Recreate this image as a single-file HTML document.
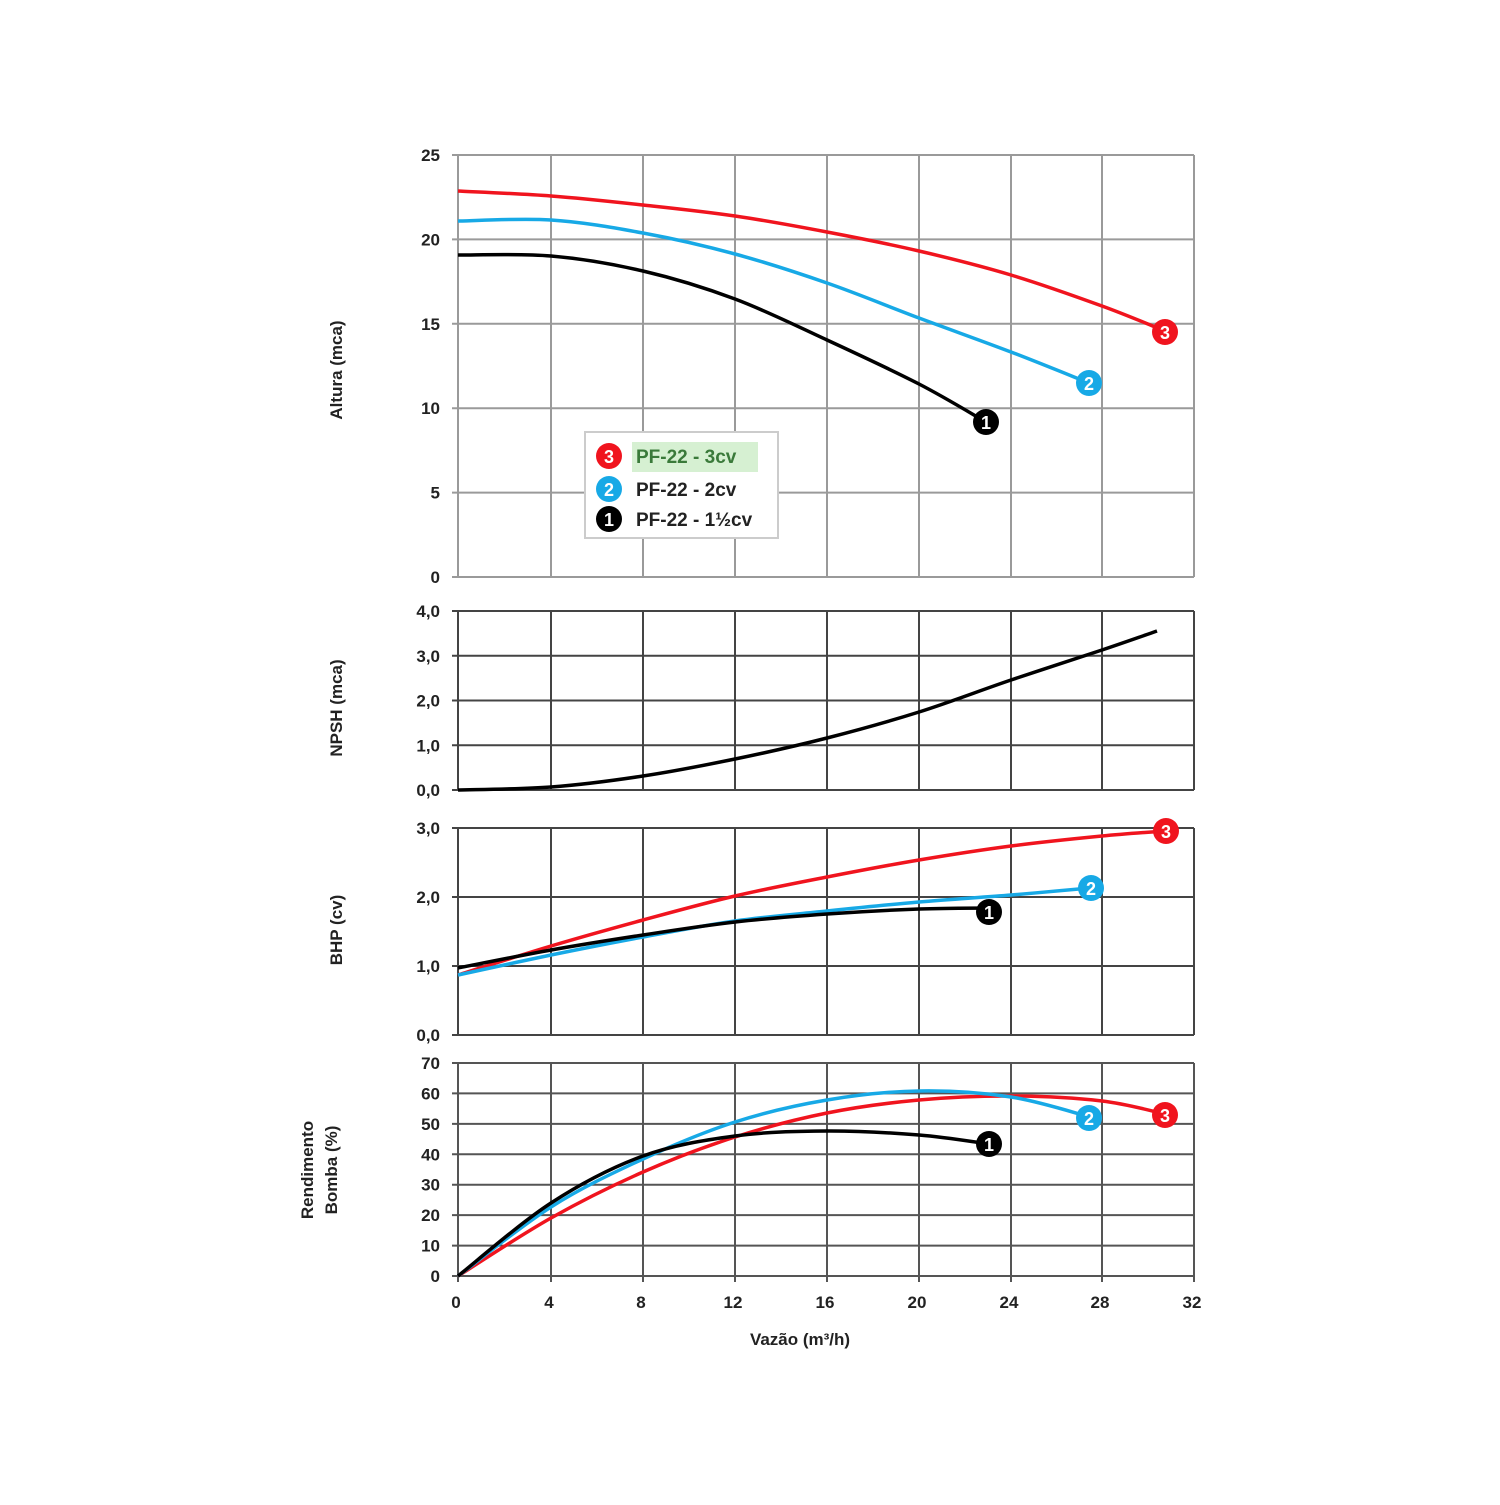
<!DOCTYPE html>
<html><head><meta charset="utf-8"><style>
body{margin:0;background:#fff}
svg text{font-family:"Liberation Sans",sans-serif;font-weight:bold;fill:#222}
</style></head><body>
<svg id="s" width="1500" height="1500" xmlns="http://www.w3.org/2000/svg">
<g id="grid"></g>
<g id="curves"></g>
<g id="labels"></g>
<rect x="585" y="432" width="193" height="106" fill="#fff" stroke="#ccc" stroke-width="2"/>
<rect x="632" y="442" width="126" height="30" fill="#d6f0d2"/>
<circle cx="609" cy="456" r="13" fill="#f0141e"/><text x="609" y="463" font-size="18" text-anchor="middle" style="fill:#fff">3</text>
<circle cx="609" cy="489" r="13" fill="#17a9e6"/><text x="609" y="496" font-size="18" text-anchor="middle" style="fill:#fff">2</text>
<circle cx="609" cy="519" r="13" fill="#000"/><text x="609" y="526" font-size="18" text-anchor="middle" style="fill:#fff">1</text>
<text x="636" y="463" font-size="19" style="fill:#3a7a3a">PF-22 - 3cv</text>
<text x="636" y="496" font-size="19">PF-22 - 2cv</text>
<text x="636" y="526" font-size="19">PF-22 - 1½cv</text>
</svg>
<script>
const NS="http://www.w3.org/2000/svg";
function el(p,t,a,txt){const e=document.createElementNS(NS,t);for(const k in a)e.setAttribute(k,a[k]);if(txt!==undefined)e.textContent=txt;document.getElementById(p).appendChild(e);return e;}
const xs=[458,551,643,735,827,919,1011,1102,1194];
const panels=[
 {top:155,bot:577,n:5,labs:["0","5","10","15","20","25"],col:"#9a9a9a"},
 {top:611,bot:790,n:4,labs:["0,0","1,0","2,0","3,0","4,0"],col:"#444"},
 {top:828,bot:1035,n:3,labs:["0,0","1,0","2,0","3,0"],col:"#444"},
 {top:1063,bot:1276,n:7,labs:["0","10","20","30","40","50","60","70"],col:"#555"}];
panels.forEach(p=>{
 for(let i=0;i<=p.n;i++){const y=p.bot-(p.bot-p.top)*i/p.n;
  el("grid","line",{x1:452,x2:1194,y1:y,y2:y,stroke:p.col,"stroke-width":2});
  el("labels","text",{x:440,y:y+6,"font-size":17,"text-anchor":"end"},p.labs[i]);}
 xs.forEach(x=>el("grid","line",{x1:x,x2:x,y1:p.top,y2:p.bot+(p===panels[3]?6:0),stroke:p.col,"stroke-width":2}));
});
[0,4,8,12,16,20,24,28,32].forEach((v,i)=>el("labels","text",{x:xs[i]-2,y:1308,"font-size":17,"text-anchor":"middle"},v));
el("labels","text",{x:800,y:1345,"font-size":17,"text-anchor":"middle"},"Vazão (m³/h)");
function vt(x,y,t){el("labels","text",{x:x,y:y,"font-size":17,"text-anchor":"middle",transform:`rotate(-90 ${x} ${y})`},t);}
vt(342,370,"Altura (mca)");vt(342,708,"NPSH (mca)");vt(342,930,"BHP (cv)");
vt(313,1170,"Rendimento");vt(337,1170,"Bomba (%)");
function curve(pts,c){let d="M"+pts[0];for(let i=0;i<pts.length-1;i++){const p0=pts[i-1]||pts[i],p1=pts[i],p2=pts[i+1],p3=pts[i+2]||p2;
 d+=` C${p1[0]+(p2[0]-p0[0])/6},${p1[1]+(p2[1]-p0[1])/6} ${p2[0]-(p3[0]-p1[0])/6},${p2[1]-(p3[1]-p1[1])/6} ${p2[0]},${p2[1]}`;}
 el("curves","path",{d:d,fill:"none",stroke:c,"stroke-width":3.5});}
function mk(x,y,c,n){el("curves","circle",{cx:x,cy:y,r:13,fill:c});el("curves","text",{x:x,y:y+7,"font-size":18,"text-anchor":"middle",style:"fill:#fff"},n);}
const R="#f0141e",B="#17a9e6",K="#000";
curve([[458,191],[551,196],[643,205],[735,216],[827,232],[919,251],[1011,275],[1102,306],[1165,331]],R);
curve([[458,221],[551,220],[643,233],[735,254],[827,283],[919,318],[1011,352],[1089,383]],B);
curve([[458,255],[551,256],[643,271],[735,299],[827,340],[919,384],[986,422]],K);
mk(1165,332,R,3);mk(1089,383,B,2);mk(986,422,K,1);
curve([[458,790],[551,787],[643,776],[735,759],[827,738],[919,712],[1011,680],[1102,650],[1157,631]],K);
curve([[458,975],[551,946],[643,920],[735,896],[827,877],[919,860],[1011,846],[1102,836],[1165,831]],R);
curve([[458,975],[551,955],[643,937],[735,921],[827,911],[919,902],[1011,895],[1090,888]],B);
curve([[458,968],[551,950],[643,935],[735,922],[827,914],[919,909],[989,908]],K);
mk(1166,831,R,3);mk(1091,888,B,2);mk(989,912,K,1);
curve([[458,1276],[551,1218],[643,1172],[735,1137],[827,1113],[919,1100],[1011,1096],[1102,1101],[1165,1114]],R);
curve([[458,1276],[551,1207],[643,1159],[735,1122],[827,1100],[919,1091],[1011,1097],[1090,1117]],B);
curve([[458,1276],[551,1203],[643,1156],[735,1136],[827,1131],[919,1135],[989,1144]],K);
mk(1165,1115,R,3);mk(1089,1118,B,2);mk(989,1144,K,1);
</script>
</body></html>
